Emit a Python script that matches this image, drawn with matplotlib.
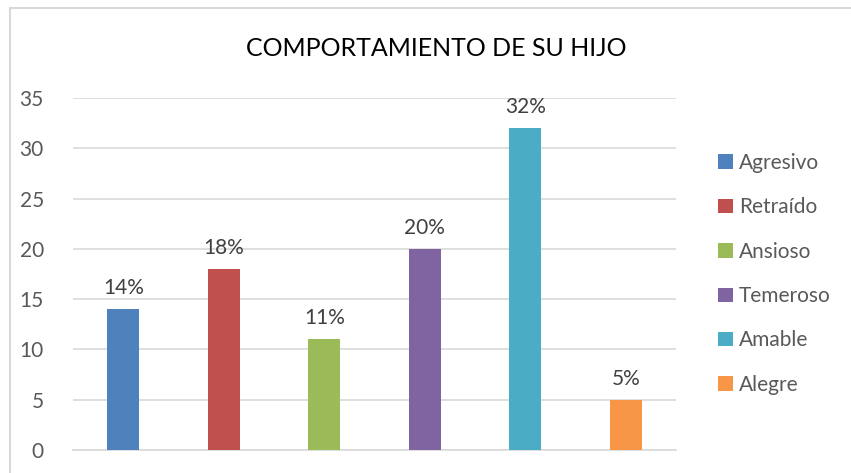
import matplotlib.pyplot as plt
from matplotlib.lines import Line2D

# Data
categorias = ['Agresivo', 'Retraído', 'Ansioso', 'Temeroso', 'Amable', 'Alegre']
valores = [14, 18, 11, 20, 32, 5]
etiquetas = ['14%', '18%', '11%', '20%', '32%', '5%']
colores = ['#4F81BD', '#C0504D', '#9BBB59', '#8064A2', '#4BACC6', '#F79646']
yticks = [0, 5, 10, 15, 20, 25, 30, 35]

plt.rcParams['font.family'] = ['Lato', 'DejaVu Sans']

W, H = 851, 473
fig = plt.figure(figsize=(W / 100, H / 100), dpi=100)
ax = fig.add_axes([73 / W, 1 - 450 / H, (676 - 73) / W, (450 - 98) / H])

# one bar per category so each gets its own legend entry
for i, (cat, val) in enumerate(zip(categorias, valores)):
    cont = ax.bar(i, val, width=0.32, color=colores[i], label=cat, zorder=3)
    ax.bar_label(cont, labels=[etiquetas[i]], padding=8, fontsize=15, color='#404040')

ax.set_xlim(-0.5, len(categorias) - 0.5)
ax.set_ylim(0, 35)
ax.set_yticks(yticks)
ax.set_xticks([])
ax.grid(axis='y', color='#D9D9D9', linewidth=1.2, zorder=0)
for s in ['top', 'right', 'left']:
    ax.spines[s].set_visible(False)
ax.spines['bottom'].set_color('#D9D9D9')
ax.spines['bottom'].set_linewidth(1.2)
ax.tick_params(axis='y', length=0, pad=21, labelsize=15, labelcolor='#595959')

fig.text(436 / W, 1 - 48 / H, 'COMPORTAMIENTO DE SU HIJO', ha='center', va='center',
         fontsize=18, color='#000000')

ax.legend(loc='upper left', bbox_to_anchor=(718 / W, 1 - 153 / H),
          bbox_transform=fig.transFigure, frameon=False, fontsize=15,
          labelcolor='#595959', handlelength=0.7, handleheight=0.7,
          handletextpad=0.3, labelspacing=1.17, borderaxespad=0, borderpad=0)

# light chart border (top and left edges visible)
fig.add_artist(Line2D([9.5 / W, 1], [1 - 8.5 / H, 1 - 8.5 / H], color='#D9D9D9', lw=1.5))
fig.add_artist(Line2D([9.5 / W, 9.5 / W], [0, 1 - 8.5 / H], color='#D9D9D9', lw=1.5))

fig.savefig('out.png', dpi=100)
